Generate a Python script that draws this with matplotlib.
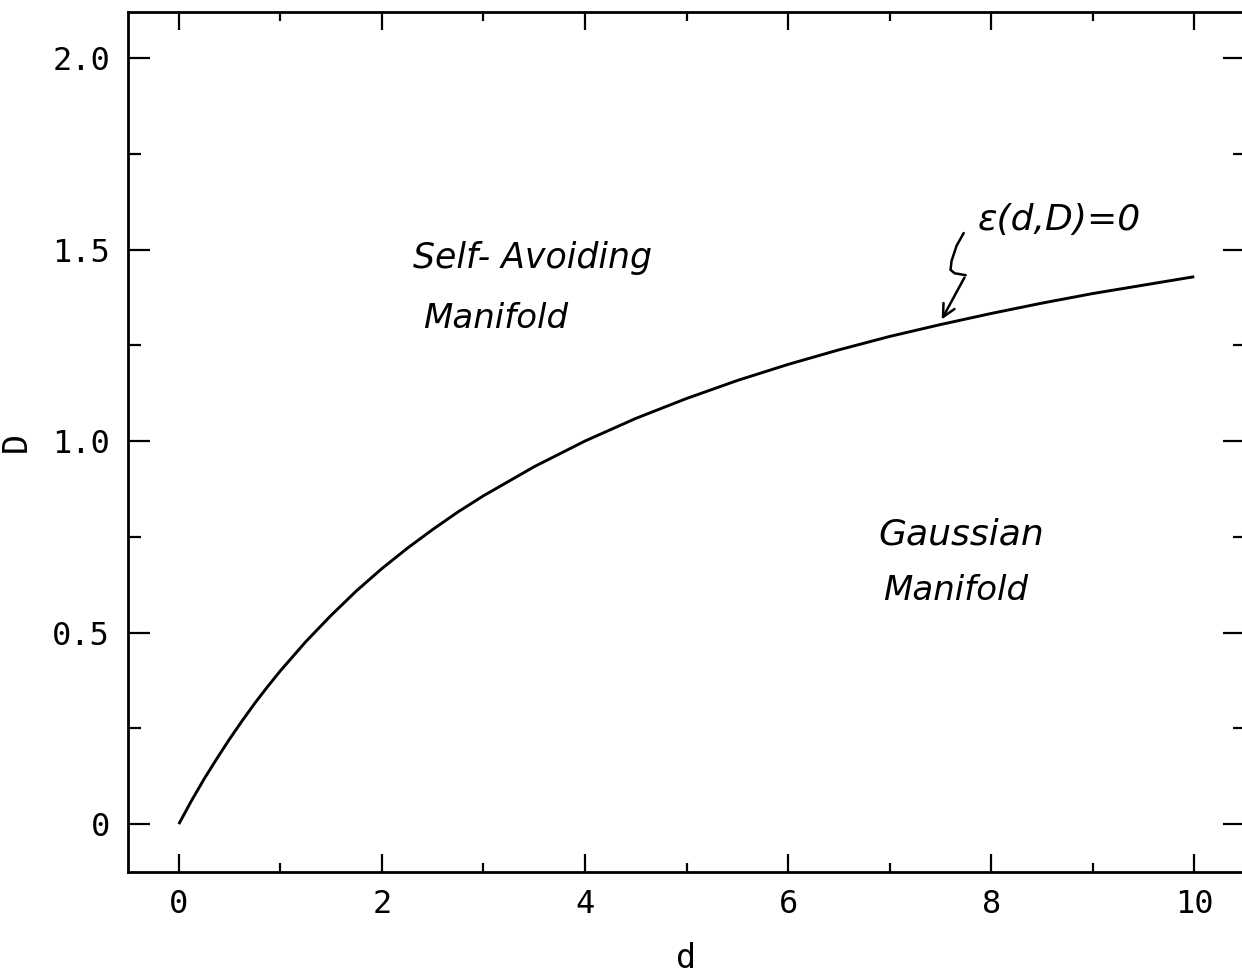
import matplotlib
matplotlib.use("Agg")
import matplotlib.pyplot as plt
from matplotlib.ticker import MultipleLocator

# Marginal line eps(d, D) = 0 separating the two manifold regimes
d_vals = [0.0, 0.125, 0.25, 0.375, 0.5, 0.625, 0.75, 0.875, 1.0, 1.25, 1.5,
          1.75, 2.0, 2.25, 2.5, 2.75, 3.0, 3.5, 4.0, 4.5, 5.0, 5.5, 6.0, 6.5,
          7.0, 7.5, 8.0, 8.5, 9.0, 9.5, 10.0]
D_vals = [0.0, 0.061, 0.118, 0.171, 0.222, 0.270, 0.316, 0.359, 0.400, 0.476,
          0.545, 0.609, 0.667, 0.720, 0.769, 0.815, 0.857, 0.933, 1.000, 1.059,
          1.111, 1.158, 1.200, 1.238, 1.273, 1.304, 1.333, 1.360, 1.385, 1.407,
          1.429]

x_major = [0, 2, 4, 6, 8, 10]
x_labels = ["0", "2", "4", "6", "8", "10"]
y_major = [0, 0.5, 1.0, 1.5, 2.0]
y_labels = ["0", "0.5", "1.0", "1.5", "2.0"]

W, H = 1242, 975
fig = plt.figure(figsize=(W / 100, H / 100), dpi=100)
ax = fig.add_axes([128 / W, 103 / H, (1245 - 128) / W, (963 - 103) / H])

ax.plot(d_vals, D_vals, color="black", lw=2.1, solid_capstyle="butt",
        solid_joinstyle="round")

ax.set_xlim(-0.5, 10.5)
ax.set_ylim(-0.125, 2.12)

tick_font = dict(family="DejaVu Sans Mono", size=23)
ax.set_xticks(x_major)
ax.set_xticklabels(x_labels, **tick_font)
ax.set_yticks(y_major)
ax.set_yticklabels(y_labels, **tick_font)
ax.xaxis.set_minor_locator(MultipleLocator(1))
ax.yaxis.set_minor_locator(MultipleLocator(0.25))

ax.tick_params(which="both", direction="in", top=True, right=True, width=1.6,
               color="black")
ax.tick_params(axis="x", which="major", length=13, pad=12)
ax.tick_params(axis="x", which="minor", length=6.5)
ax.tick_params(axis="y", which="major", length=16, pad=13)
ax.tick_params(axis="y", which="minor", length=9)

for sp in ax.spines.values():
    sp.set_linewidth(2.0)

ax.set_xlabel("d", fontsize=24, family="DejaVu Sans Mono", labelpad=16)
ax.set_ylabel("D", fontsize=24, family="DejaVu Sans Mono", labelpad=14)

hand = dict(family="DejaVu Sans", style="italic", color="black")
ax.text(2.31, 1.478, "Self- Avoiding", ha="left", va="center", fontsize=25, **hand)
ax.text(2.41, 1.32, "Manifold", ha="left", va="center", fontsize=24.5, **hand)
ax.text(6.89, 0.755, "Gaussian", ha="left", va="center", fontsize=26, **hand)
ax.text(6.94, 0.61, "Manifold", ha="left", va="center", fontsize=24.5, **hand)
ax.text(7.87, 1.577, "ε(d,D)=0", ha="left", va="center", fontsize=26, **hand)

# squiggly pointer onto the curve
ax.plot([7.73, 7.66, 7.61, 7.60, 7.64, 7.75], [1.543, 1.51, 1.47, 1.447, 1.438, 1.433],
        color="black", lw=1.8, solid_capstyle="round", solid_joinstyle="round")
ax.annotate("", xy=(7.50, 1.311), xytext=(7.75, 1.433),
            arrowprops=dict(arrowstyle="->,head_length=0.9,head_width=0.45",
                            color="black", lw=1.8))

fig.savefig("out.png", dpi=100)
